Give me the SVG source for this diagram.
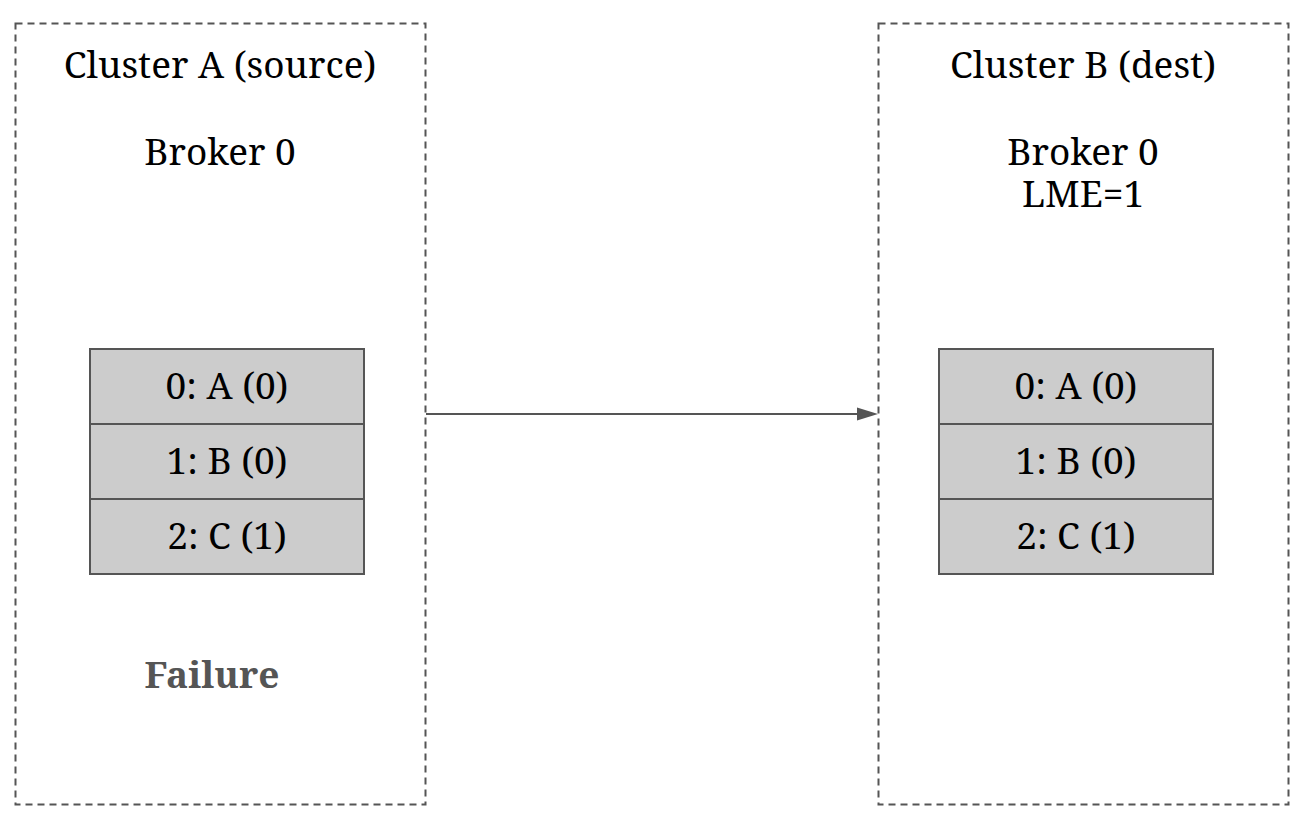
<svg xmlns="http://www.w3.org/2000/svg" width="1310" height="821" viewBox="0 0 1310 821">
<style>
text{font-family:"Noto Serif","DejaVu Serif",serif;font-size:37px;fill:#000;text-anchor:middle}
.cl{fill:none;stroke:#555;stroke-width:2;stroke-dasharray:7 5}
.cell{fill:#ccc;stroke:#555;stroke-width:2}
.fail{font-weight:bold;fill:#555}
.conn{stroke:#555;stroke-width:2;fill:none}
</style>
<rect width="1310" height="821" fill="#fff"/>
<g id="clusterA">
<rect class="cl" x="15.5" y="23.5" width="410" height="781"/>
<text x="220" y="78">Cluster A (source)</text>
<text x="220" y="165">Broker 0</text>
<rect class="cell" x="90" y="349" width="274" height="75"/>
<rect class="cell" x="90" y="424" width="274" height="75"/>
<rect class="cell" x="90" y="499" width="274" height="75"/>
<text x="227" y="399">0: A (0)</text>
<text x="227" y="474">1: B (0)</text>
<text x="227" y="549">2: C (1)</text>
<text class="fail" x="212" y="688">Failure</text>
</g>
<g id="clusterB">
<rect class="cl" x="878.5" y="23.5" width="410" height="781"/>
<text x="1083" y="78">Cluster B (dest)</text>
<text x="1083" y="165">Broker 0</text>
<text x="1083" y="207">LME=1</text>
<rect class="cell" x="939" y="349" width="274" height="75"/>
<rect class="cell" x="939" y="424" width="274" height="75"/>
<rect class="cell" x="939" y="499" width="274" height="75"/>
<text x="1076" y="399">0: A (0)</text>
<text x="1076" y="474">1: B (0)</text>
<text x="1076" y="549">2: C (1)</text>
</g>
<g id="connectors">
<path class="conn" d="M426,414 H858"/>
<path d="M857,407.5 L878,414 L857,420.5 Z" fill="#555"/>
</g>
</svg>
